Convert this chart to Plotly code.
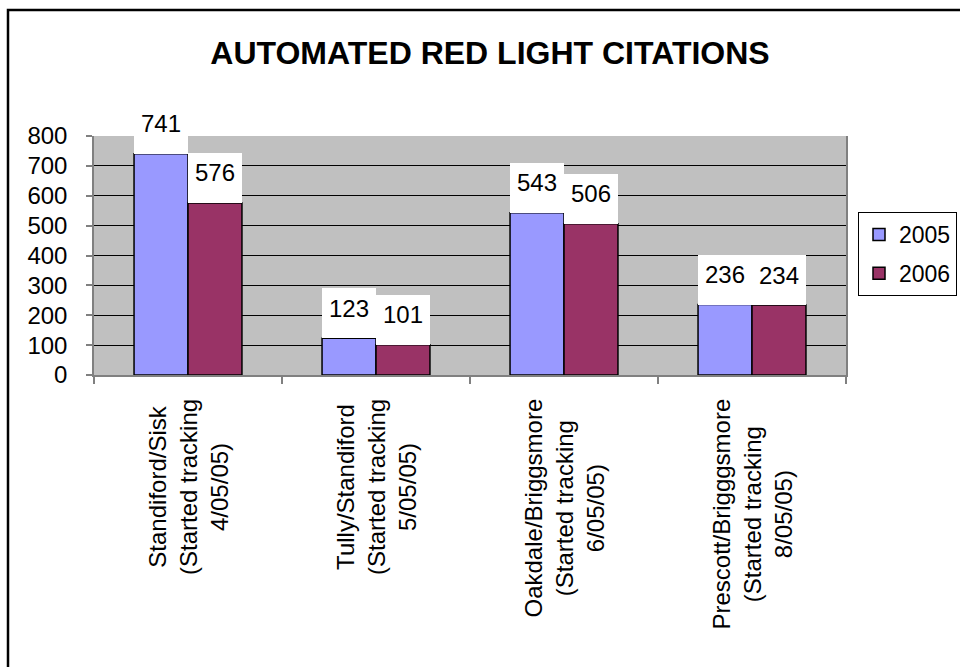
import plotly.graph_objects as go

categories = [
    "Standiford/Sisk<br>(Started tracking<br>4/05/05)",
    "Tully/Standiford<br>(Started tracking<br>5/05/05)",
    "Oakdale/Briggsmore<br>(Started tracking<br>6/05/05)",
    "Prescott/Brigggsmore<br>(Started tracking<br>8/05/05)",
]
series_names = ["2005", "2006"]
values_2005 = [741, 123, 543, 236]
values_2006 = [576, 101, 506, 234]
series_values = [values_2005, values_2006]
colors = ["#9999FF", "#993366"]
y_ticks = [0, 100, 200, 300, 400, 500, 600, 700, 800]

FONT = "Arial, Liberation Sans, sans-serif"

fig = go.Figure()
for name, vals, col in zip(series_names, series_values, colors):
    fig.add_trace(go.Bar(
        x=categories, y=vals, name=name, legendgroup=name,
        marker=dict(color=col, line=dict(color="black", width=1.5)),
    ))

annotations = []
shifts = [-27, 27]
for vals, sh in zip(series_values, shifts):
    for cat, v in zip(categories, vals):
        # white label box
        annotations.append(dict(
            x=cat, y=v, xref="x", yref="y", text=" ", showarrow=False,
            xanchor="center", yanchor="bottom", xshift=sh,
            width=54, height=50, borderpad=0, borderwidth=0,
            bgcolor="white", font=dict(size=2)))
        # label text
        annotations.append(dict(
            x=cat, y=v, xref="x", yref="y", text=str(v), showarrow=False,
            xanchor="center", yanchor="middle", xshift=sh, yshift=30,
            font=dict(family=FONT, size=24, color="black")))

for cat in categories:
    annotations.append(dict(
        x=cat, y=0, xref="x", yref="paper", text=cat, showarrow=False,
        textangle=-90, align="center", xanchor="center", yanchor="top",
        yshift=-22, font=dict(family=FONT, size=24, color="black")))

fig.update_layout(
    width=960, height=667,
    margin=dict(l=94, r=114, t=136, b=292, autoexpand=False),
    paper_bgcolor="white", plot_bgcolor="#C0C0C0",
    barmode="group", bargap=0.426, bargroupgap=0,
    title=dict(text="<b>AUTOMATED RED LIGHT CITATIONS</b>",
               x=0.5104, xanchor="center", xref="container",
               y=(667 - 53) / 667, yanchor="middle", yref="container",
               font=dict(family=FONT, size=32, color="black")),
    font=dict(family=FONT, size=24, color="black"),
    showlegend=True,
    legend=dict(x=858 / 960, xanchor="left", xref="container",
                y=(667 - 212) / 667, yanchor="top", yref="container",
                bordercolor="black", borderwidth=1, bgcolor="white",
                font=dict(family=FONT, size=23, color="black"),
                itemwidth=30, tracegroupgap=6),
    annotations=annotations,
    shapes=[dict(type="rect", xref="paper", yref="paper",
                 x0=(8 - 94) / 752, x1=(970 - 94) / 752,
                 y0=(375 - 680) / 239, y1=(375 - 10) / 239,
                 line=dict(color="black", width=2.5), fillcolor="rgba(0,0,0,0)",
                 layer="below")],
)
fig.update_xaxes(showticklabels=False, showline=True, linecolor="#808080", linewidth=1.5,
                 ticks="outside", tickson="boundaries", ticklen=7, tickcolor="#808080",
                 tickwidth=1.5, showgrid=False)
fig.update_yaxes(range=[0, 800], tickvals=y_ticks, showline=True, linecolor="#808080",
                 linewidth=1.5, mirror=True, ticks="outside", ticklen=6, tickcolor="#808080",
                 tickwidth=1.5, showgrid=True, gridcolor="black", gridwidth=1,
                 zeroline=False, ticklabelstandoff=14,
                 tickfont=dict(family=FONT, size=24, color="black"))

fig.write_html("out.html",
               config={"displayModeBar": False},
               post_script="document.body.style.margin='0';"
                           "document.body.style.overflow='hidden';"
                           "document.documentElement.style.overflow='hidden';")
